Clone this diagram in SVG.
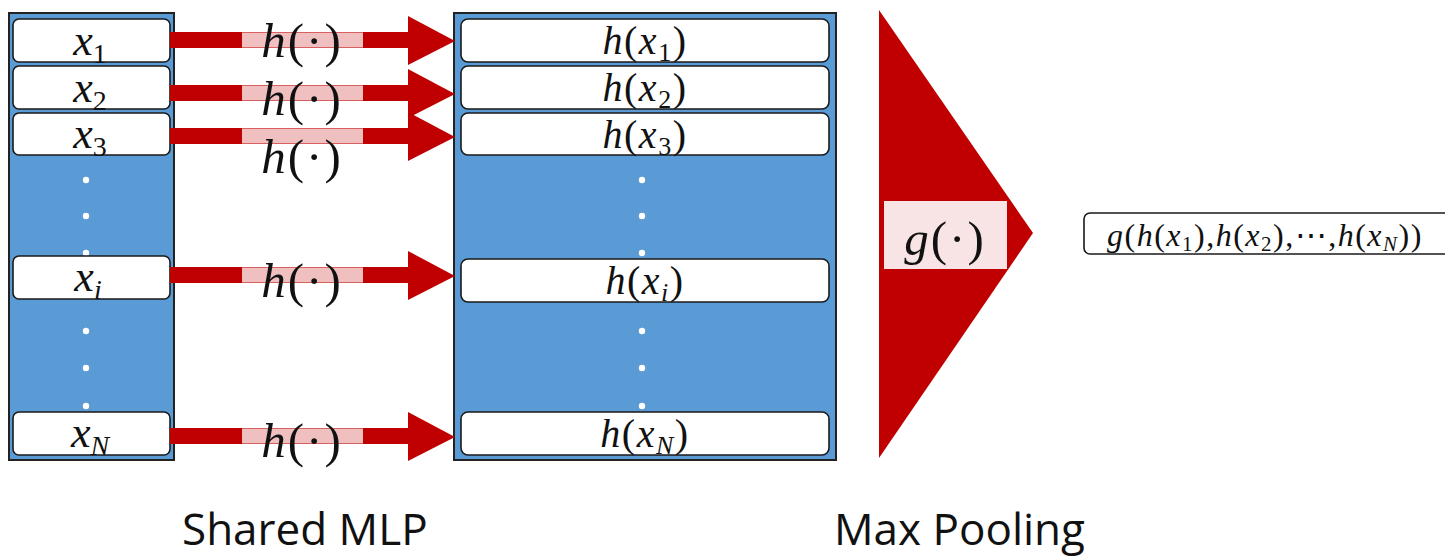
<svg xmlns="http://www.w3.org/2000/svg" xmlns:xlink="http://www.w3.org/1999/xlink" width="1445" height="557" viewBox="0 0 1445 557">
<style>
.panel{fill:#5b9bd5;stroke:#222;stroke-width:2}
.cell{fill:#fff;stroke:#1a1a1a;stroke-width:1.6}
.dot{fill:#fff}
.m{font-family:"Liberation Serif","DejaVu Serif",serif;font-style:italic;fill:#111;text-anchor:middle}
.n{font-style:normal}
.big{font-size:49px;letter-spacing:2px}
.hx{font-size:40px;letter-spacing:1.5px}
.cap{font-family:"Open Sans","Noto Sans",sans-serif;font-size:44px;fill:#111}
</style>
<defs>
<g id="arrow">
<rect x="170" y="-8" width="239" height="16" fill="#c00000"/>
<rect x="242" y="-7.5" width="121" height="15" fill="#f0c0c0"/>
<polygon points="408,-24 455,1 408,25" fill="#c00000"/>
</g>
</defs>
<rect width="1445" height="557" fill="#fff"/>

<g id="input-panel">
<rect class="panel" x="9" y="13" width="165" height="447"/>
<circle class="dot" cx="86" cy="180" r="3.2"/>
<circle class="dot" cx="86" cy="216" r="3.2"/>
<circle class="dot" cx="86" cy="253" r="3.2"/>
<circle class="dot" cx="86" cy="331" r="3.2"/>
<circle class="dot" cx="86" cy="368" r="3.2"/>
<circle class="dot" cx="86" cy="406" r="3.2"/>
</g>
<g id="x1"><rect class="cell" x="13" y="19" width="157" height="43" rx="6"/><text class="m" x="90" y="55" font-size="44">x<tspan class="n" font-size="28" dy="8">1</tspan></text></g>
<g id="x2"><rect class="cell" x="13" y="66" width="157" height="43" rx="6"/><text class="m" x="90" y="102" font-size="44">x<tspan class="n" font-size="28" dy="8">2</tspan></text></g>
<g id="x3"><rect class="cell" x="13" y="113" width="157" height="42" rx="6"/><text class="m" x="90" y="148" font-size="44">x<tspan class="n" font-size="28" dy="8">3</tspan></text></g>
<g id="xi"><rect class="cell" x="13" y="256" width="157" height="43" rx="6"/><text class="m" x="88" y="291" font-size="44">x<tspan font-size="28" dy="8">i</tspan></text></g>
<g id="xN"><rect class="cell" x="13" y="412" width="157" height="43" rx="6"/><text class="m" x="90" y="447" font-size="44">x<tspan font-size="28" dy="8">N</tspan></text></g>

<g id="output-panel">
<rect class="panel" x="454" y="13" width="382" height="447"/>
<circle class="dot" cx="642" cy="180" r="3.2"/>
<circle class="dot" cx="642" cy="216" r="3.2"/>
<circle class="dot" cx="642" cy="253" r="3.2"/>
<circle class="dot" cx="642" cy="331" r="3.2"/>
<circle class="dot" cx="642" cy="368" r="3.2"/>
<circle class="dot" cx="642" cy="406" r="3.2"/>
</g>
<g id="hx1"><rect class="cell" x="461" y="19" width="368" height="43" rx="7"/><text class="m hx" x="645" y="54">h<tspan class="n">(</tspan>x<tspan class="n" font-size="26" dy="7">1</tspan><tspan class="n" dy="-7">)</tspan></text></g>
<g id="hx2"><rect class="cell" x="461" y="66" width="368" height="43" rx="7"/><text class="m hx" x="645" y="101">h<tspan class="n">(</tspan>x<tspan class="n" font-size="26" dy="7">2</tspan><tspan class="n" dy="-7">)</tspan></text></g>
<g id="hx3"><rect class="cell" x="461" y="113" width="368" height="42" rx="7"/><text class="m hx" x="645" y="148">h<tspan class="n">(</tspan>x<tspan class="n" font-size="26" dy="7">3</tspan><tspan class="n" dy="-7">)</tspan></text></g>
<g id="hxi"><rect class="cell" x="461" y="259" width="368" height="43" rx="7"/><text class="m hx" x="645" y="294">h<tspan class="n">(</tspan>x<tspan font-size="26" dy="7">i</tspan><tspan class="n" dy="-7">)</tspan></text></g>
<g id="hxN"><rect class="cell" x="461" y="412" width="368" height="43" rx="7"/><text class="m hx" x="645" y="447">h<tspan class="n">(</tspan>x<tspan font-size="26" dy="7">N</tspan><tspan class="n" dy="-7">)</tspan></text></g>

<g id="connectors">
<use xlink:href="#arrow" href="#arrow" y="40"/>
<use xlink:href="#arrow" href="#arrow" y="93"/>
<use xlink:href="#arrow" href="#arrow" y="136"/>
<use xlink:href="#arrow" href="#arrow" y="275"/>
<use xlink:href="#arrow" href="#arrow" y="436"/>
</g>
<g id="mlp-labels">
<text class="m big" x="302" y="57">h<tspan class="n">(·)</tspan></text>
<text class="m big" x="302" y="115">h<tspan class="n">(·)</tspan></text>
<text class="m big" x="302" y="173">h<tspan class="n">(·)</tspan></text>
<text class="m big" x="302" y="297">h<tspan class="n">(·)</tspan></text>
<text class="m big" x="302" y="457">h<tspan class="n">(·)</tspan></text>
</g>

<g id="max-pool">
<polygon points="879,10 1033,233 879,458" fill="#c00000"/>
<rect x="884" y="201" width="123" height="68" fill="#f8e4e4"/>
<text class="m big" x="945" y="255">g<tspan class="n">(·)</tspan></text>
</g>

<g id="result">
<rect class="cell" x="1084" y="213" width="400" height="41" rx="6"/>
<text class="m" x="1107" y="246" font-size="32" letter-spacing="1.5" style="text-anchor:start">g<tspan class="n">(</tspan>h<tspan class="n">(</tspan>x<tspan class="n" font-size="21" dy="5">1</tspan><tspan class="n" dy="-5">),</tspan>h<tspan class="n">(</tspan>x<tspan class="n" font-size="21" dy="5">2</tspan><tspan class="n" dy="-5">),⋯,</tspan>h<tspan class="n">(</tspan>x<tspan font-size="21" dy="5">N</tspan><tspan class="n" dy="-5">))</tspan></text>
</g>

<text class="cap" x="182" y="545">Shared MLP</text>
<text class="cap" x="834" y="545">Max Pooling</text>
</svg>
